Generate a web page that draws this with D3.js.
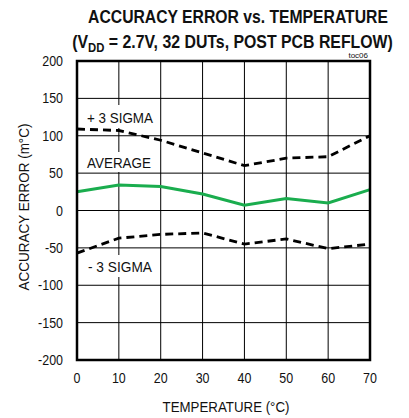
<!DOCTYPE html>
<html>
<head>
<meta charset="utf-8">
<script src="https://cdn.jsdelivr.net/npm/d3@7"></script>
<style>
  body { margin: 0; background: #fff; }
  text { font-family: "Liberation Sans", Arial, sans-serif; fill: #111; }
</style>
</head>
<body>
<script>
// temperatures (°C) and errors (m°C)
var temps = [0, 10, 20, 30, 40, 50, 60, 70];
var plus3Sigma = [109, 107, 94, 77, 60, 70, 72, 100];
var average = [25, 34, 32, 22, 7, 16, 10, 28];
var minus3Sigma = [-57, -37, -32, -30, -45, -38, -51, -45];
var xTicks = [0, 10, 20, 30, 40, 50, 60, 70];
var yTicks = [-200, -150, -100, -50, 0, 50, 100, 150, 200];

var width = 409, height = 418;
var plotL = 77, plotR = 370, plotT = 61, plotB = 360;

var svg = d3.select("body").append("svg")
  .attr("width", width)
  .attr("height", height);

var x = d3.scaleLinear().domain([0, 70]).range([plotL, plotR]);
var y = d3.scaleLinear().domain([-200, 200]).range([plotB, plotT]);

// squeeze text horizontally to look like the narrow font of the original
function squeeze(sel, cx, cy, s) {
  sel.attr("x", 0).attr("y", 0)
    .attr("transform", "translate(" + cx + "," + cy + ") scale(" + s + ",1)");
}
function fit(sel, cx, cy, target) {
  squeeze(sel, cx, cy, target / sel.node().getBBox().width);
}

// grid
svg.append("g").selectAll("line")
  .data(xTicks.slice(1, -1))
  .enter().append("line")
  .attr("x1", d => x(d)).attr("x2", d => x(d))
  .attr("y1", plotT).attr("y2", plotB)
  .attr("stroke", "#000").attr("stroke-width", 1);
svg.append("g").selectAll("line")
  .data(yTicks.slice(1, -1))
  .enter().append("line")
  .attr("x1", plotL).attr("x2", plotR)
  .attr("y1", d => y(d)).attr("y2", d => y(d))
  .attr("stroke", "#000").attr("stroke-width", 1);

// white boxes behind the curve labels
svg.append("g").selectAll("rect")
  .data([
    {y0: 105, y1: 128, x1: 158},
    {y0: 152, y1: 172, x1: 158},
    {y0: 255, y1: 277, x1: 152}
  ])
  .enter().append("rect")
  .attr("x", plotL + 1).attr("y", d => d.y0)
  .attr("width", d => d.x1 - plotL).attr("height", d => d.y1 - d.y0)
  .attr("fill", "#fff");

var line = d3.line().x((d, i) => x(temps[i])).y(d => y(d));

svg.append("path").datum(plus3Sigma)
  .attr("d", line).attr("fill", "none")
  .attr("stroke", "#000").attr("stroke-width", 2.8)
  .attr("stroke-dasharray", "8,5");
svg.append("path").datum(minus3Sigma)
  .attr("d", line).attr("fill", "none")
  .attr("stroke", "#000").attr("stroke-width", 2.8)
  .attr("stroke-dasharray", "8,5");
svg.append("path").datum(average)
  .attr("d", line).attr("fill", "none")
  .attr("stroke", "#1aad4e").attr("stroke-width", 3);

// frame
svg.append("rect")
  .attr("x", plotL).attr("y", plotT)
  .attr("width", plotR - plotL).attr("height", plotB - plotT)
  .attr("fill", "none").attr("stroke", "#000").attr("stroke-width", 2.5);

// curve labels
var lbl = [["+ 3 SIGMA", 87, 123, 66], ["AVERAGE", 87, 168, 64], ["- 3 SIGMA", 88, 272, 64]];
lbl.forEach(function(d) {
  var t = svg.append("text").text(d[0])
    .attr("font-size", "15px");
  fit(t, d[1], d[2], d[3]);
});

// ticks (narrow digits)
svg.append("g").selectAll("text")
  .data(yTicks).enter().append("text")
  .text(d => d)
  .attr("text-anchor", "end")
  .attr("font-size", "14.5px")
  .attr("transform", d => "translate(63," + (y(d) + 5) + ") scale(0.86,1)");
svg.append("g").selectAll("text")
  .data(xTicks).enter().append("text")
  .text(d => d)
  .attr("text-anchor", "middle")
  .attr("font-size", "14.5px")
  .attr("transform", d => "translate(" + x(d) + ",383) scale(0.86,1)");

// axis titles
var xl = svg.append("text").text("TEMPERATURE (°C)")
  .attr("text-anchor", "middle")
  .attr("font-size", "14.5px");
fit(xl, 226, 412, 127);
var yl = svg.append("text").text("ACCURACY ERROR (m°C)")
  .attr("text-anchor", "middle")
  .attr("font-size", "14.5px");
var ylw = yl.node().getBBox().width;
yl.attr("transform", "translate(29,207) rotate(-90) scale(" + (167 / ylw) + ",1)");

// chart title
var t1 = svg.append("text").text("ACCURACY ERROR vs. TEMPERATURE")
  .attr("text-anchor", "middle")
  .attr("font-size", "17.5px").attr("font-weight", "bold");
fit(t1, 238, 23, 300);

var t2 = svg.append("text")
  .attr("text-anchor", "middle")
  .attr("font-size", "17.5px").attr("font-weight", "bold");
t2.append("tspan").text("(V");
t2.append("tspan").text("DD").attr("font-size", "12.5px").attr("dy", 4);
t2.append("tspan").text(" = 2.7V, 32 DUTs, POST PCB REFLOW)").attr("dy", -4);
fit(t2, 232.5, 48, 321);

svg.append("text").text("toc06")
  .attr("x", 368).attr("y", 58)
  .attr("text-anchor", "end")
  .attr("font-size", "8px");
</script>
</body>
</html>
